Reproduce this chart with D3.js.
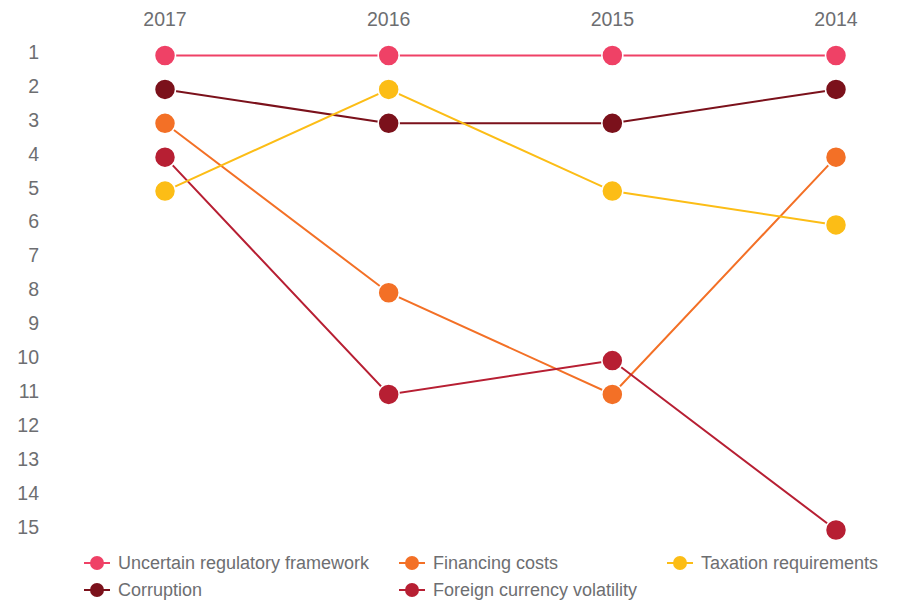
<!DOCTYPE html>
<html>
<head>
<meta charset="utf-8">
<script src="https://cdn.jsdelivr.net/npm/d3@7"></script>
<style>
  body { margin: 0; background: #fff; }
  text { font-family: "Liberation Sans", Arial, Helvetica, sans-serif; fill: #6d6e71; }
</style>
</head>
<body>
<svg id="chart" width="897" height="600"></svg>
<script>
// years along the top, ranks down the side
var years = ["2017", "2016", "2015", "2014"]
var ranks = d3.range(1, 16)

var seriesNames = ["Uncertain regulatory framework", "Corruption", "Financing costs", "Foreign currency volatility", "Taxation requirements"]
var seriesColors = ["#ef4166", "#7b111b", "#f37026", "#b71f33", "#fcbd16"]

var uncertain = [1, 1, 1, 1]
var corruption = [2, 3, 3, 2]
var financing = [3, 8, 11, 4]
var foreignFx = [4, 11, 10, 15]
var taxation = [5, 2, 5, 6]

var values = [uncertain, corruption, financing, foreignFx, taxation]

var svg = d3.select("#chart")

var x = d3.scalePoint().domain(years).range([165, 836])
var y = d3.scaleLinear().domain([1, 15]).range([55.5, 530])

// year labels
svg.append("g").selectAll("text")
    .data(years)
    .join("text")
    .attr("x", d => x(d))
    .attr("y", 26)
    .attr("text-anchor", "middle")
    .style("font-size", "19.5px")
    .text(d => d)

// rank labels
svg.append("g").selectAll("text")
    .data(ranks)
    .join("text")
    .attr("x", 39)
    .attr("y", d => y(d) - 3.5)
    .attr("dy", "0.36em")
    .attr("text-anchor", "end")
    .style("font-size", "19.5px")
    .text(d => d)

var series = seriesNames.map((name, i) => ({
    name: name,
    color: seriesColors[i],
    points: years.map((yr, j) => ({ year: yr, rank: values[i][j] }))
}))

var line = d3.line().x(d => x(d.year)).y(d => y(d.rank))

var g = svg.append("g")
g.selectAll("path")
    .data(series)
    .join("path")
    .attr("d", d => line(d.points))
    .attr("fill", "none")
    .attr("stroke", d => d.color)
    .attr("stroke-width", 2)

series.forEach(s => {
    g.append("g").selectAll("circle")
        .data(s.points)
        .join("circle")
        .attr("cx", d => x(d.year))
        .attr("cy", d => y(d.rank))
        .attr("r", 10.5)
        .attr("fill", s.color)
        .attr("stroke", "#fff")
        .attr("stroke-width", 1.5)
})

// legend
var legendOrder = [
    { i: 0, x: 84, y: 563 },
    { i: 2, x: 399, y: 563 },
    { i: 4, x: 667, y: 563 },
    { i: 1, x: 84, y: 590 },
    { i: 3, x: 399, y: 590 }
]
var leg = svg.append("g").selectAll("g")
    .data(legendOrder)
    .join("g")
    .attr("transform", d => "translate(" + d.x + "," + d.y + ")")

leg.append("line")
    .attr("x1", 0).attr("x2", 26)
    .attr("stroke", d => seriesColors[d.i])
    .attr("stroke-width", 2)
leg.append("circle")
    .attr("cx", 13)
    .attr("r", 7)
    .attr("fill", d => seriesColors[d.i])
leg.append("text")
    .attr("x", 34)
    .attr("dy", "0.35em")
    .style("font-size", "18px")
    .text(d => seriesNames[d.i])
</script>
</body>
</html>
